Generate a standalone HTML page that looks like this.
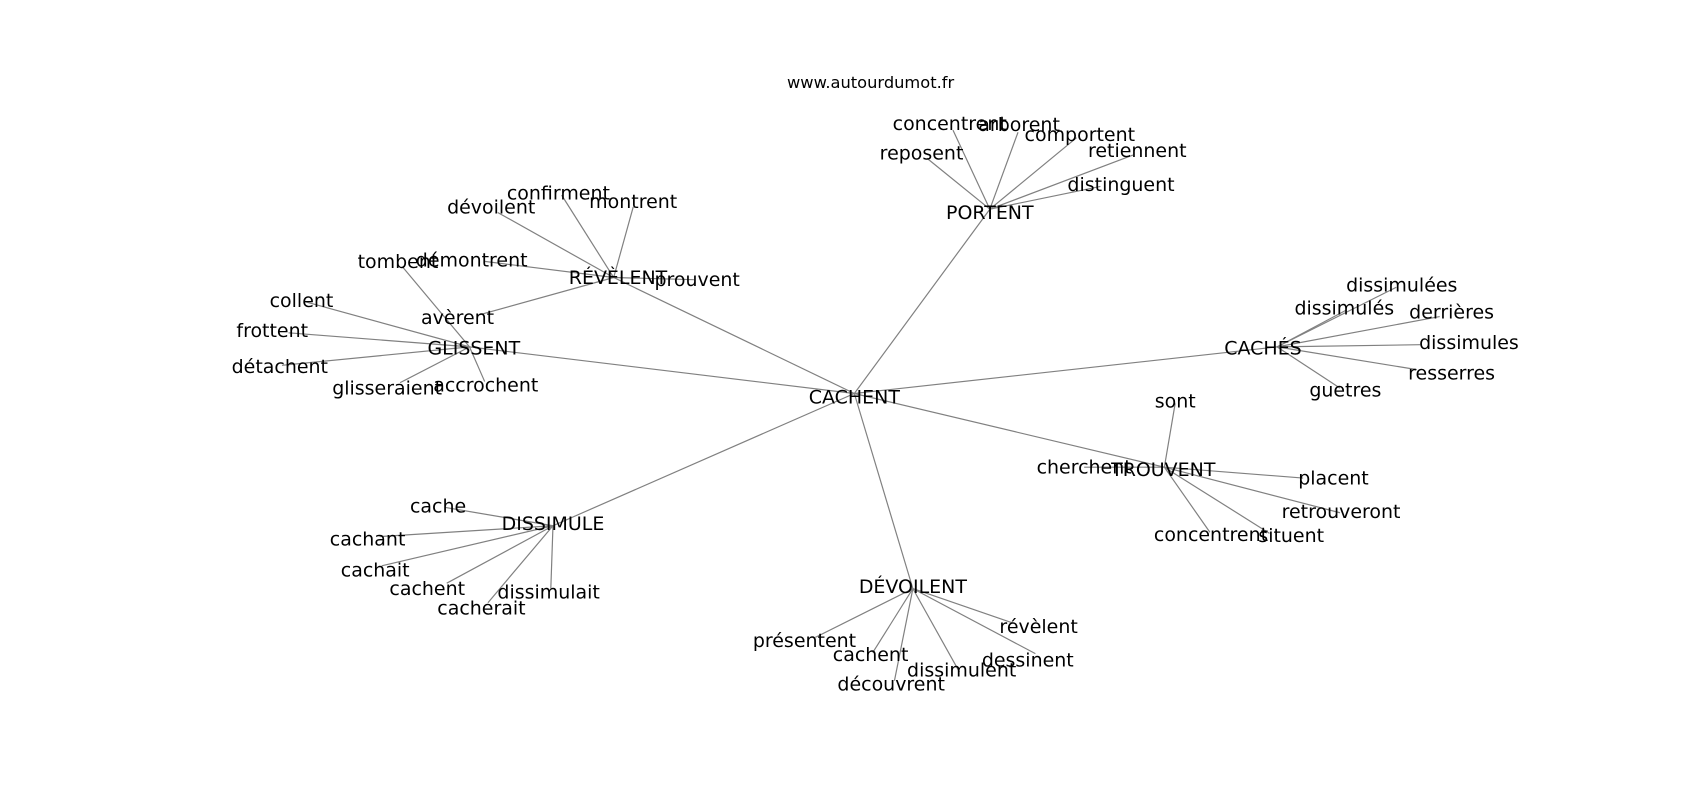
<!DOCTYPE html>
<html><head><meta charset="utf-8"><style>html,body{margin:0;padding:0;background:#fff}svg{display:block}text{font-family:"DejaVu Sans","Liberation Sans",sans-serif;font-size:17.5px;fill:#000;text-anchor:middle}</style></head><body>
<svg width="1700" height="800" viewBox="0 0 1568 738" xmlns="http://www.w3.org/2000/svg">
<g stroke="#808080" stroke-width="1.1" fill="none">
<line x1="788" y1="363" x2="913" y2="193"/>
<line x1="788" y1="363" x2="566" y2="256"/>
<line x1="788" y1="363" x2="433" y2="320"/>
<line x1="788" y1="363" x2="1178" y2="320"/>
<line x1="788" y1="363" x2="1074" y2="431"/>
<line x1="788" y1="363" x2="842" y2="543"/>
<line x1="788" y1="363" x2="510" y2="485"/>
<line x1="913" y1="193" x2="855" y2="146"/>
<line x1="913" y1="193" x2="879" y2="120"/>
<line x1="913" y1="193" x2="939" y2="122"/>
<line x1="913" y1="193" x2="993" y2="127"/>
<line x1="913" y1="193" x2="1045" y2="143"/>
<line x1="913" y1="193" x2="1015" y2="172"/>
<line x1="566" y1="256" x2="459" y2="196"/>
<line x1="566" y1="256" x2="518" y2="180"/>
<line x1="566" y1="256" x2="584" y2="191"/>
<line x1="566" y1="256" x2="446" y2="241"/>
<line x1="566" y1="256" x2="640" y2="258"/>
<line x1="566" y1="256" x2="440" y2="291"/>
<line x1="433" y1="320" x2="371" y2="246"/>
<line x1="433" y1="320" x2="280" y2="278"/>
<line x1="433" y1="320" x2="266" y2="307"/>
<line x1="433" y1="320" x2="260" y2="337"/>
<line x1="433" y1="320" x2="369" y2="353"/>
<line x1="433" y1="320" x2="447" y2="352"/>
<line x1="1178" y1="320" x2="1288" y2="265"/>
<line x1="1178" y1="320" x2="1242" y2="286"/>
<line x1="1178" y1="320" x2="1328" y2="292"/>
<line x1="1178" y1="320" x2="1310" y2="318"/>
<line x1="1178" y1="320" x2="1307" y2="341"/>
<line x1="1178" y1="320" x2="1236" y2="358"/>
<line x1="1074" y1="431" x2="1084" y2="372"/>
<line x1="1074" y1="431" x2="1000" y2="431"/>
<line x1="1074" y1="431" x2="1202" y2="441"/>
<line x1="1074" y1="431" x2="1236" y2="473"/>
<line x1="1074" y1="431" x2="1171" y2="492"/>
<line x1="1074" y1="431" x2="1116" y2="491"/>
<line x1="510" y1="485" x2="410" y2="468"/>
<line x1="510" y1="485" x2="350" y2="495"/>
<line x1="510" y1="485" x2="352" y2="522"/>
<line x1="510" y1="485" x2="412" y2="538"/>
<line x1="510" y1="485" x2="450" y2="556"/>
<line x1="510" y1="485" x2="508" y2="543"/>
<line x1="842" y1="543" x2="752" y2="588"/>
<line x1="842" y1="543" x2="805" y2="602"/>
<line x1="842" y1="543" x2="825" y2="628"/>
<line x1="842" y1="543" x2="885" y2="620"/>
<line x1="842" y1="543" x2="955" y2="603"/>
<line x1="842" y1="543" x2="935" y2="575"/>
</g>
<text x="803" y="81" style="font-size:15px">www.autourdumot.fr</text>
<text x="788" y="372">CACHENT</text>
<text x="913" y="202">PORTENT</text>
<text x="876" y="120">concentrent</text>
<text x="940" y="121">arborent</text>
<text x="996" y="130">comportent</text>
<text x="850" y="147">reposent</text>
<text x="1049" y="145">retiennent</text>
<text x="1034" y="176">distinguent</text>
<text x="570" y="262">RÉVÈLENT</text>
<text x="515" y="184">confirment</text>
<text x="453" y="197">dévoilent</text>
<text x="584" y="192">montrent</text>
<text x="435" y="246">démontrent</text>
<text x="643" y="264">prouvent</text>
<text x="422" y="299">avèrent</text>
<text x="437" y="327">GLISSENT</text>
<text x="367" y="247">tombent</text>
<text x="278" y="283">collent</text>
<text x="251" y="311">frottent</text>
<text x="258" y="344">détachent</text>
<text x="357" y="364">glisseraient</text>
<text x="448" y="361">accrochent</text>
<text x="1165" y="327">CACHÉS</text>
<text x="1293" y="269">dissimulées</text>
<text x="1240" y="290">dissimulés</text>
<text x="1339" y="294">derrières</text>
<text x="1355" y="322">dissimules</text>
<text x="1339" y="350">resserres</text>
<text x="1241" y="366">guetres</text>
<text x="1073" y="439">TROUVENT</text>
<text x="1084" y="376">sont</text>
<text x="1000" y="437">cherchent</text>
<text x="1230" y="447">placent</text>
<text x="1237" y="478">retrouveront</text>
<text x="1117" y="499">concentrent</text>
<text x="1191" y="500">situent</text>
<text x="510" y="489">DISSIMULE</text>
<text x="404" y="473">cache</text>
<text x="339" y="503">cachant</text>
<text x="346" y="532">cachait</text>
<text x="394" y="549">cachent</text>
<text x="444" y="567">cacherait</text>
<text x="506" y="552">dissimulait</text>
<text x="842" y="547">DÉVOILENT</text>
<text x="742" y="597">présentent</text>
<text x="803" y="610">cachent</text>
<text x="822" y="637">découvrent</text>
<text x="887" y="624">dissimulent</text>
<text x="958" y="584">révèlent</text>
<text x="948" y="615">dessinent</text>
</svg>
</body></html>
